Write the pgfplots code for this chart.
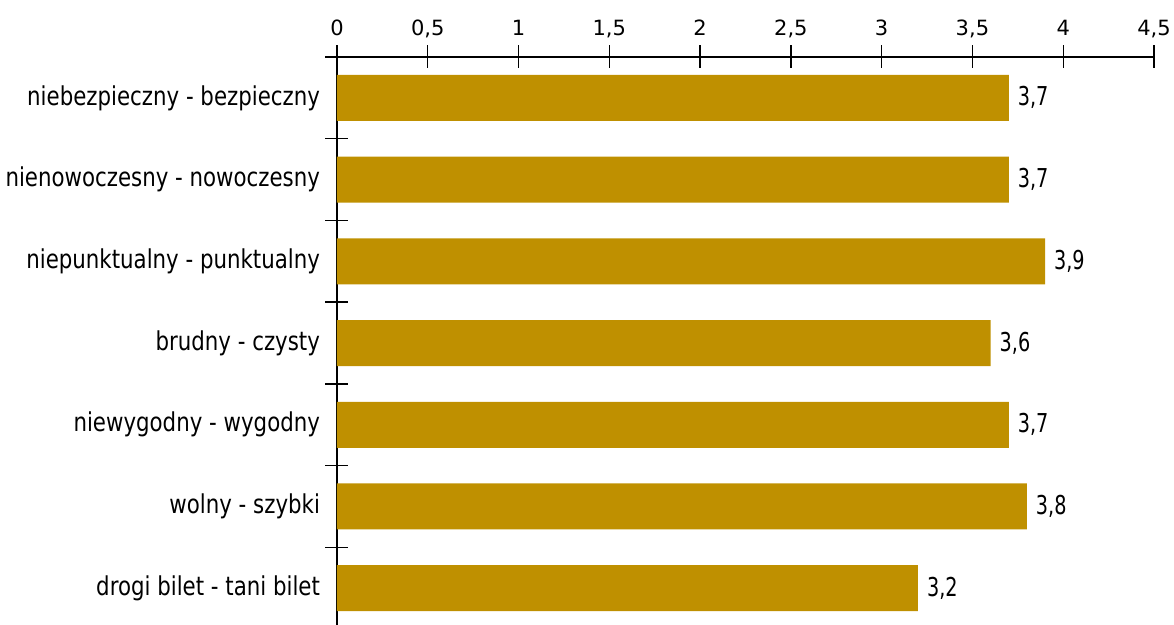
\documentclass[border=0pt]{standalone}
\usepackage{fontspec}
\setmainfont{DejaVu Sans}[FakeStretch=0.82]
\newfontfamily\tickfont{DejaVu Sans}
\newfontfamily\datafont{DejaVu Sans}[FakeStretch=0.74]
\usepackage{pgfplots}
\pgfplotsset{compat=1.18}
\definecolor{barcol}{HTML}{BF9000}
\pgfplotsset{/pgf/number format/.cd, use comma, 1000 sep={}, assume math mode=true}
\begin{document}
\fontsize{13}{15}\selectfont
\begin{tikzpicture}
\useasboundingbox (-168.5pt,0pt) rectangle (418.5pt,312.5pt);
\begin{axis}[
  at={(0,0)}, anchor=south west,
  scale only axis, width=408.5pt, height=284pt,
  xmin=0, xmax=4.5, ymin=-0.45, ymax=6.5,
  axis x line*=top, axis y line*=left,
  axis line style={black, line width=0.65pt},
  every tick/.style={black, line width=0.7pt},
  major tick length=11.5pt,
  xtick={0,0.5,1,1.5,2,2.5,3,3.5,4,4.5},
  ytick={0.5,1.5,2.5,3.5,4.5,5.5,6.5}, yticklabels={},
  extra y ticks={0,1,2,3,4,5,6},
  extra y tick labels={drogi bilet - tani bilet, wolny - szybki, niewygodny - wygodny, brudny - czysty, niepunktualny - punktualny, nienowoczesny - nowoczesny, niebezpieczny - bezpieczny},
  extra y tick style={major tick length=0pt},
  yticklabel style={font=\fontsize{13}{15}\selectfont, xshift=-4pt},
  xticklabel style={font=\tickfont\fontsize{10.5}{12}\selectfont, anchor=base, yshift=5.1pt},
  xbar, bar width=23pt,
  nodes near coords,
  nodes near coords align={horizontal},
  every node near coord/.append style={font=\datafont\fontsize{13}{15}\selectfont, black},
  clip=false,
  xtick align=center, ytick align=center,
]
\addplot[fill=barcol, draw=none] coordinates {
  (3.7,6) (3.7,5) (3.9,4) (3.6,3) (3.7,2) (3.8,1) (3.2,0)
};
\end{axis}
\end{tikzpicture}
\end{document}
